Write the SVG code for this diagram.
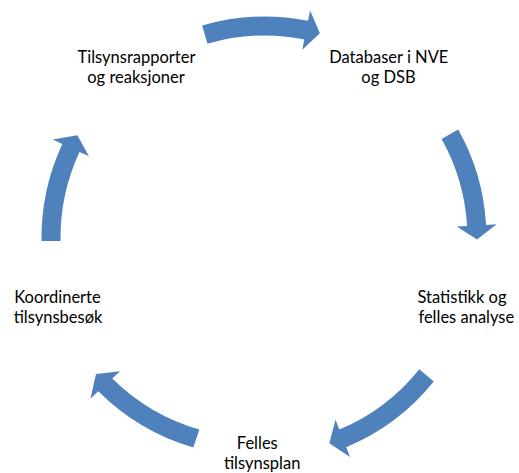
<svg xmlns="http://www.w3.org/2000/svg" width="519" height="473" viewBox="0 0 519 473">
  <style>
    .lbl { font-family: Lato, "Noto Sans", "Liberation Sans", sans-serif; font-size: 16.5px; fill: #000000; text-anchor: middle; }
    .arrow { fill: #4F81BD; stroke: none; }
  </style>
  <rect x="0" y="0" width="519" height="473" fill="#ffffff"/>
  <g id="connectors">
    <path class="arrow" d="M202.1,25.6 A221.5,221.5 0 0 1 308.0,20.7 L310.1,10.4 L319.9,33.2 L302.3,49.7 L304.3,39.4 A202.5,202.5 0 0 0 207.5,43.8 Z"/>
    <path class="arrow" d="M458.2,129.6 A221.5,221.5 0 0 1 486.1,224.9 L496.6,224.2 L477.0,239.5 L456.7,226.6 L467.1,226.0 A202.5,202.5 0 0 0 441.6,138.9 Z"/>
    <path class="arrow" d="M433.8,381.6 A222.5,222.5 0 0 1 346.2,447.3 L350.0,457.1 L329.3,443.2 L335.5,419.8 L339.3,429.6 A203.5,203.5 0 0 0 419.3,369.2 Z"/>
    <path class="arrow" d="M193.3,447.6 A223.5,223.5 0 0 1 98.3,391.3 L90.5,398.4 L96.0,374.1 L120.0,371.3 L112.3,378.5 A204.5,204.5 0 0 0 199.4,429.6 Z"/>
    <path class="arrow" d="M41.5,241.1 A223.5,223.5 0 0 1 62.3,143.9 L52.8,139.5 L77.3,135.2 L89.0,156.3 L79.5,151.9 A204.5,204.5 0 0 0 60.5,240.9 Z"/>
  </g>
  <g id="node-databaser">
    <text class="lbl" x="388.8" y="63">Databaser i NVE</text>
    <text class="lbl" x="388.5" y="83">og DSB</text>
  </g>
  <g id="node-statistikk">
    <text class="lbl" x="462" y="303.3">Statistikk og</text>
    <text class="lbl" x="466.3" y="323.3">felles analyse</text>
  </g>
  <g id="node-tilsynsplan">
    <text class="lbl" x="257.3" y="449.2">Felles</text>
    <text class="lbl" x="262.2" y="468.8">tilsynsplan</text>
  </g>
  <g id="node-koordinerte">
    <text class="lbl" x="57.5" y="303.3">Koordinerte</text>
    <text class="lbl" x="58" y="323.3">tilsynsbesøk</text>
  </g>
  <g id="node-tilsynsrapporter">
    <text class="lbl" x="136.5" y="63">Tilsynsrapporter</text>
    <text class="lbl" x="136" y="83">og reaksjoner</text>
  </g>
</svg>
